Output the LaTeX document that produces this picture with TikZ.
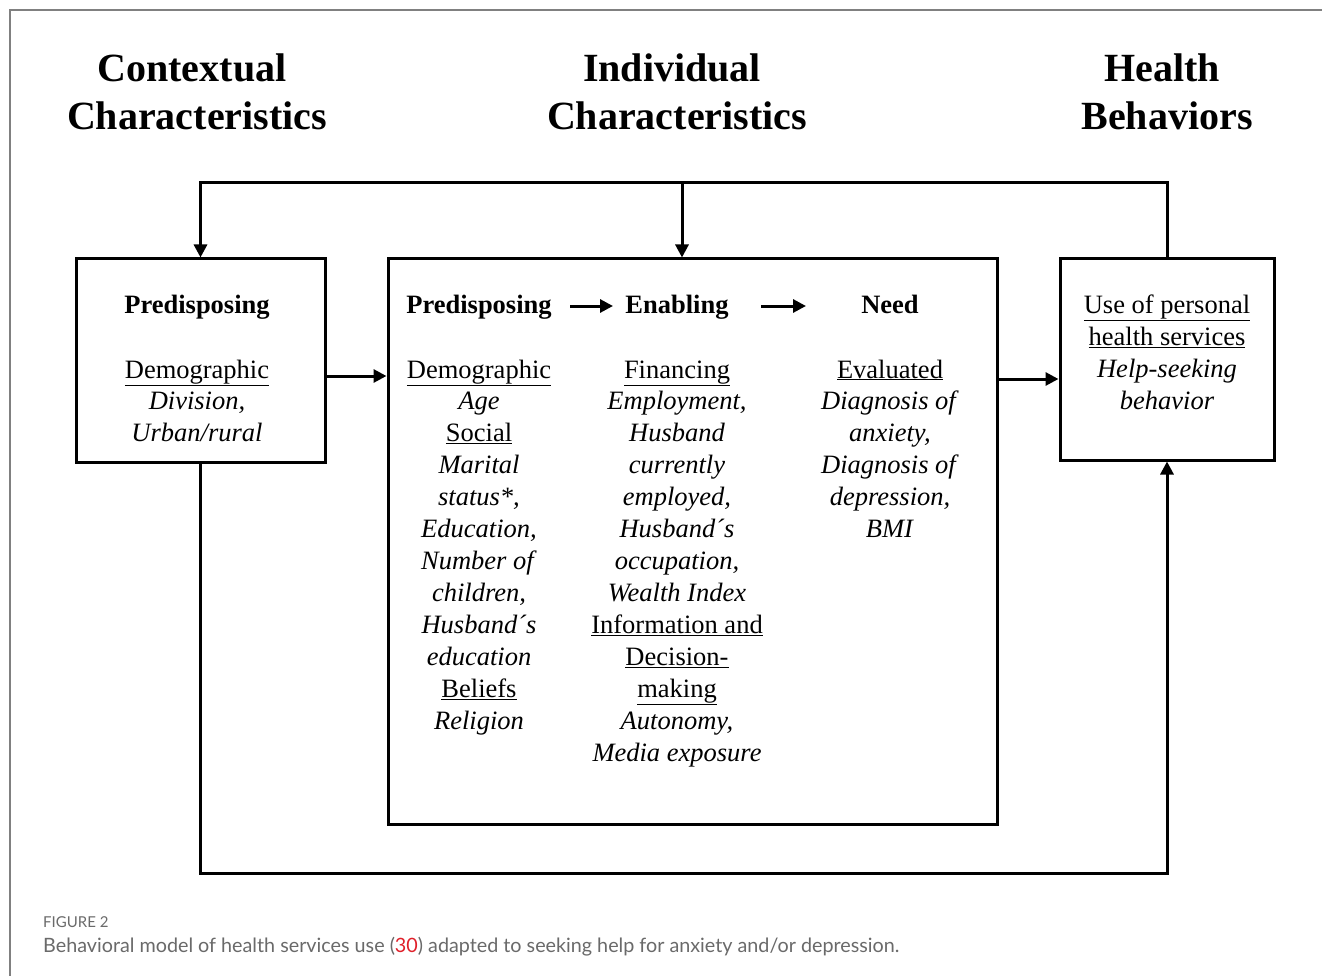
\documentclass[tikz,border=0pt]{standalone}
\usepackage{fontspec}
\setmainfont{Liberation Serif}
\newfontfamily\capfont{Lato}
\usetikzlibrary{arrows.meta,calc}
\definecolor{framegray}{HTML}{808080}
\definecolor{captgray}{HTML}{6A6A6A}
\definecolor{refred}{HTML}{E0202A}
\begin{document}
\begin{tikzpicture}[x=1pt,y=-1pt,
  box/.style={draw,line width=3pt,inner sep=0pt},
  conn/.style={line width=3pt},
  arr/.style={line width=3pt,-{Triangle[length=13pt,width=13pt]}},
  head/.style={font=\fontsize{40}{47}\selectfont\bfseries,inner sep=0pt,anchor=base},
  txt/.style={font=\fontsize{26.5}{31.8}\selectfont,inner sep=0pt,anchor=base},
  bhead/.style={txt,font=\fontsize{26.5}{31.8}\selectfont\bfseries}]
\useasboundingbox (0,0) rectangle (1322,976);
\fill[white] (0,0) rectangle (1322,976);
% frame
\draw[framegray,line width=1.5pt] (10,976) -- (10,10) -- (1322,10);
% headings
\node[head] (h1a) at (192,82) {Contextual};
\node[head] (h1b) at (197,130) {Characteristics};
\node[head] (h2a) at (672,82) {Individual};
\node[head] (h2b) at (677,130) {Characteristics};
\node[head] (h3a) at (1162,82) {Health};
\node[head] (h3b) at (1167,130) {Behaviors};
% boxes
\node[box,minimum width=249pt,minimum height=203pt] (lbox) at (200.5,360.5) {};
\node[box,minimum width=609pt,minimum height=565pt] (mbox) at (692.5,541.5) {};
\node[box,minimum width=214pt,minimum height=201pt] (rbox) at (1167,359.5) {};
% left box text
\node[bhead] (l0) at (197,313) {Predisposing};
\foreach \t [count=\i] in {{\underline{Demographic}},{\textit{Division,}},{\textit{Urban/rural}}}
  \node[txt] (l\i) at (197,{378+31.95*(\i-1)}) {\t};
% middle column 1
\node[bhead] (a0) at (479,313) {Predisposing};
\foreach \t [count=\i] in {{\underline{Demographic}},{\textit{Age}},{\underline{Social}},{\textit{Marital}},{\textit{status*,}},{\textit{Education,}},{\textit{Number of}},{\textit{children,}},{\textit{Husband´s}},{\textit{education}},{\underline{Beliefs}},{\textit{Religion}}}
  \node[txt] (a\i) at (479,{378+31.95*(\i-1)}) {\t};
% middle column 2
\node[bhead] (b0) at (677,313) {Enabling};
\foreach \t [count=\i] in {{\underline{Financing}},{\textit{Employment,}},{\textit{Husband}},{\textit{currently}},{\textit{employed,}},{\textit{Husband´s}},{\textit{occupation,}},{\textit{Wealth Index}},{\underline{Information and}},{\underline{Decision-}},{\underline{making}},{\textit{Autonomy,}},{\textit{Media exposure}}}
  \node[txt] (b\i) at (677,{378+31.95*(\i-1)}) {\t};
% middle column 3
\node[bhead] (c0) at (890,313) {Need};
\foreach \t [count=\i] in {{\underline{Evaluated}},{\textit{Diagnosis of}},{\textit{anxiety,}},{\textit{Diagnosis of}},{\textit{depression,}},{\textit{BMI}}}
  \node[txt] (c\i) at (890,{378+31.95*(\i-1)}) {\t};
% right box text
\foreach \t [count=\i] in {{\underline{Use of personal}},{\underline{health services}},{\textit{Help-seeking}},{\textit{behavior}}}
  \node[txt] (r\i) at (1167,{313.5+31.95*(\i-1)}) {\t};
% in-box arrows
\coordinate (p1s) at (570,306);
\coordinate (p1e) at (613,306);
\coordinate (p2s) at (761,306);
\coordinate (p2e) at (806,306);
\draw[arr] (p1s) -- (p1e);
\draw[arr] (p2s) -- (p2e);
% top loop
\coordinate (tr) at (rbox.north |- 0,183);
\coordinate (tl) at (lbox.north |- 0,183);
\coordinate (tm) at (682,183);
\draw[conn,line cap=rect] (rbox.north) -- (tr) -- (tl);
\draw[arr] (tl) -- (lbox.north);
\draw[arr] (tm) -- (tm |- mbox.north);
% bottom loop
\coordinate (bl) at (lbox.south |- 0,873);
\coordinate (br) at (rbox.south |- 0,873);
\draw[arr] (lbox.south) -- (bl) -- (br) -- (rbox.south);
% side arrows
\coordinate (s1) at (lbox.east |- 0,376);
\draw[arr] (s1) -- (s1 -| mbox.west);
\coordinate (s2) at (mbox.east |- 0,379);
\draw[arr] (s2) -- (s2 -| rbox.west);
% caption
\node[inner sep=0pt,anchor=base west,text=captgray,font=\capfont\fontsize{15}{18}\selectfont] (figlab) at (43,927) {FIGURE 2};
\node[inner sep=0pt,anchor=base west,text=captgray,font=\capfont\fontsize{19.75}{23}\selectfont] (capt) at (43,952) {Behavioral model of health services use ({\color{refred}30}) adapted to seeking help for anxiety and/or depression.};
\end{tikzpicture}
\end{document}
